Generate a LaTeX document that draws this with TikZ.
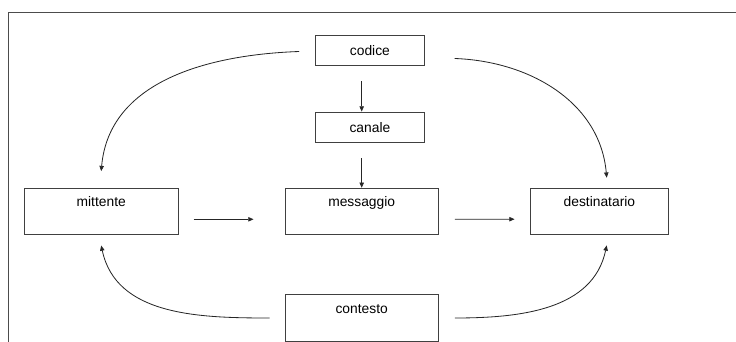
\documentclass[tikz,border=0pt]{standalone}
\usepackage{fontspec}
\setmainfont{Liberation Sans}
\usepackage{tikz}
\usetikzlibrary{arrows.meta}

\begin{document}
\begin{tikzpicture}[x=0.03cm, y=0.03cm,
  >={Triangle[length=4.5pt,width=3.8pt]},
  every node/.style={font=\fontsize{11.8}{13}\selectfont},
  box/.style={draw=black!75, line width=0.85pt},
  smallbox/.style={box, minimum width=3.25cm, minimum height=0.92cm},
  bigbox/.style={box, minimum height=1.38cm},
  lbl/.style={anchor=base},
  conn/.style={->, line width=0.7pt, black!85}]
\useasboundingbox (0,0) rectangle (736,342);
\draw[black!70, line width=0.7pt] (8.5,0) -- (8.5,329.7) -- (736,329.7);

% boxes
\node[smallbox] (codice) at (369.9,291.5) {codice};
\node[smallbox] (canale) at (369.9,214.6) {canale};
\node[bigbox, minimum width=4.62cm] (mittente) at (101.2,130.7) {};
\node[bigbox, minimum width=4.6cm] (messaggio) at (361.7,130.7) {};
\node[bigbox, minimum width=4.16cm] (destinatario) at (599.4,130.8) {};
\node[bigbox, minimum width=4.6cm] (contesto) at (361.7,24) {};
\node[lbl] (mittentetxt) at ([yshift=-0.57cm]mittente.north) {mittente};
\node[lbl] (messaggiotxt) at ([yshift=-0.57cm]messaggio.north) {messaggio};
\node[lbl] (destinatariotxt) at ([yshift=-0.57cm]destinatario.north) {destinatario};
\node[lbl] (contestotxt) at ([yshift=-0.57cm]contesto.north) {contesto};

% straight arrows
\draw[conn] ([yshift=-0.45cm]codice.south -| messaggio.north) -- (canale.north -| messaggio.north);
\draw[conn] ([yshift=-0.45cm]canale.south -| messaggio.north) -- (messaggio.north);
\draw[conn] ([shift={(15,-8)}]mittente.east) -- ([shift={(-31,-8)}]messaggio.west);
\draw[conn] ([shift={(16,-8)}]messaggio.east) -- ([shift={(-15,-8)}]destinatario.west);

% curved arrows
\draw[conn] ([shift={(-16,-1)}]codice.west) to[out=182, in=85] ([yshift=0.5cm]mittente.north);
\draw[conn] ([shift={(30,-8)}]codice.east) to[out=-2, in=95] ([shift={(7.3,10)}]destinatario.north);
\draw[conn] ([xshift=-0.45cm]contesto.west) to[out=180, in=-78] ([yshift=-0.32cm]mittente.south);
\draw[conn] ([xshift=0.48cm]contesto.east) to[out=0, in=-102] ([shift={(7.3,-10.7)}]destinatario.south);
\end{tikzpicture}
\end{document}
